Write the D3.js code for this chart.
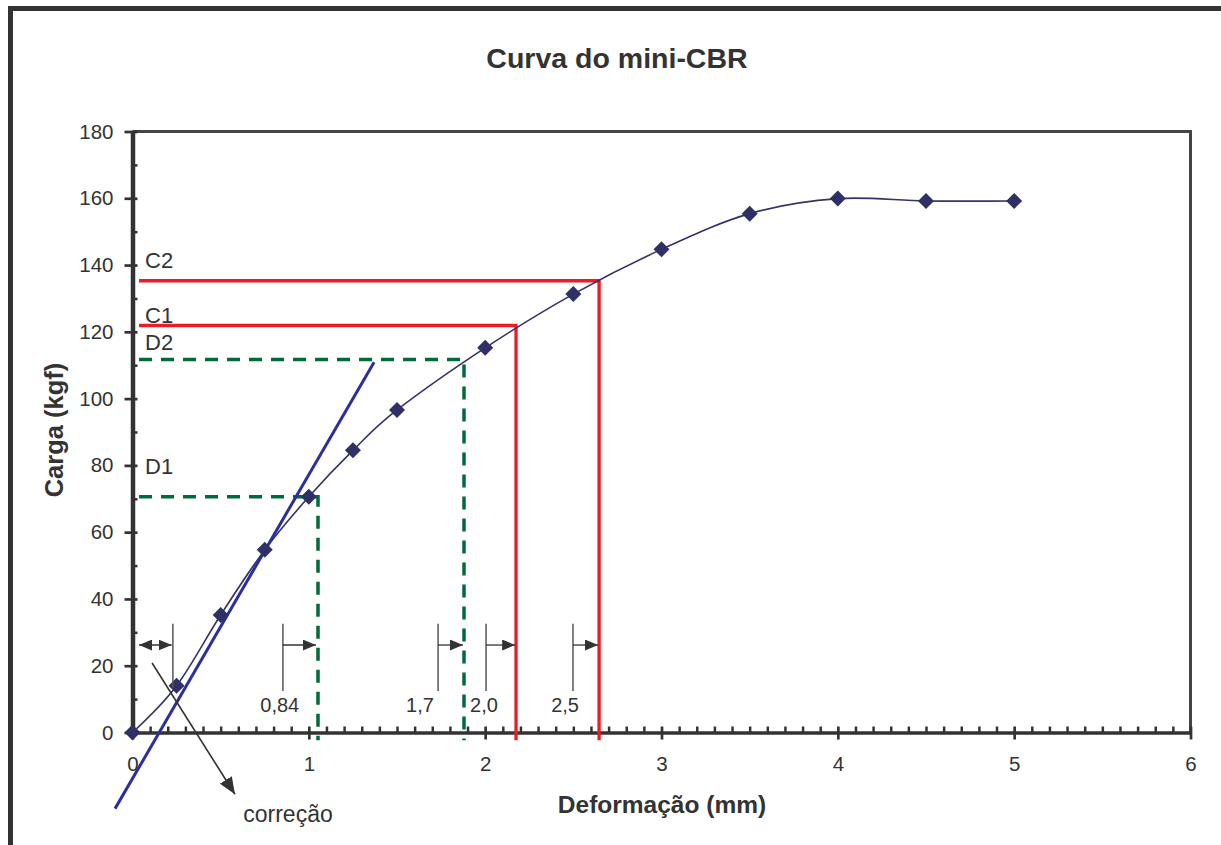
<!DOCTYPE html>
<html>
<head>
<meta charset="utf-8">
<script src="https://cdn.jsdelivr.net/npm/d3@7"></script>
<style>
  body { margin: 0; background: #fff; }
  text { font-family: "Liberation Sans", Arial, sans-serif; fill: #333; }
</style>
</head>
<body>
<div id="chart"></div>
<script>
// ensaio mini-CBR: deformacao (mm) x carga (kgf)
var deformacao = [0, 0.25, 0.5, 0.75, 1, 1.25, 1.5, 2, 2.5, 3, 3.5, 4, 4.5, 5];
var carga = [0, 14, 35.2, 54.7, 70.6, 84.5, 96.6, 115.2, 131.3, 144.7, 155.4, 159.9, 159.2, 159.2];

var xTicks = [0, 1, 2, 3, 4, 5, 6];
var yTicks = [0, 20, 40, 60, 80, 100, 120, 140, 160, 180];

// reta de correcao (trecho inicial)
var retaX = [-0.099, 1.37];
var retaY = [-22.8, 110.9];

// linhas de leitura: C = vermelho, D = verde tracejado
var refNomes = ["C2", "C1", "D2", "D1"];
var refCarga = [135.3, 121.9, 111.7, 70.6];
var refDeform = [2.646, 2.175, 1.88, 1.052];
var refRotuloY = [139.2, 122.5, 114.6, 77.4];

// setas de deslocamento
var setaRotulos = ["0,84", "1,7", "2,0", "2,5"];
var setaInicio = [0.853, 1.733, 2.005, 2.498];
var setaFim = [1.04, 1.874, 2.17, 2.64];
var setaRotuloX = [0.835, 1.63, 1.993, 2.453];

var width = 1221, height = 845;
var margin = { top: 131.5, right: 30.5, bottom: 112.5, left: 132.5 };

var svg = d3.select("#chart").append("svg")
    .attr("width", width)
    .attr("height", height);

var x = d3.scaleLinear().domain([0, 6]).range([margin.left, width - margin.right]);
var y = d3.scaleLinear().domain([0, 180]).range([height - margin.bottom, margin.top]);

var defs = svg.append("defs");
function arrowMarker(id, len, w) {
  defs.append("marker")
      .attr("id", id)
      .attr("markerUnits", "userSpaceOnUse")
      .attr("viewBox", "0 0 " + len + " " + w)
      .attr("refX", len).attr("refY", w / 2)
      .attr("markerWidth", len).attr("markerHeight", w)
      .attr("orient", "auto-start-reverse")
      .append("path")
      .attr("d", "M0,0L" + len + "," + (w / 2) + "L0," + w + "Z")
      .attr("fill", "#333");
}
arrowMarker("seta", 13, 11);
arrowMarker("setaGrande", 17, 14);

// moldura externa
svg.append("rect")
    .attr("x", 10.5).attr("y", 8.5)
    .attr("width", 1400).attr("height", 1000)
    .attr("fill", "none").attr("stroke", "#333").attr("stroke-width", 5);

// titulo
svg.append("text")
    .attr("x", 617).attr("y", 68)
    .attr("text-anchor", "middle")
    .style("font-size", "28.5px").style("font-weight", "bold")
    .text("Curva do mini-CBR");

// borda superior e direita
svg.append("path")
    .attr("d", "M" + x(0) + "," + y(180) + "H" + x(6) + "V" + y(0))
    .attr("fill", "none").attr("stroke", "#444").attr("stroke-width", 3);

// eixo Y
var yMinor = svg.append("g")
    .attr("transform", "translate(" + x(0) + ",0)")
    .call(d3.axisLeft(y).tickValues(d3.range(10, 180, 20)).tickSize(-5).tickFormat(""));
yMinor.select(".domain").remove();
yMinor.selectAll(".tick line").attr("stroke", "#333").attr("stroke-width", 2.5);

var yAxis = svg.append("g")
    .attr("transform", "translate(" + x(0) + ",0)")
    .call(d3.axisLeft(y).tickValues(yTicks).tickFormat(d3.format("d")).tickSizeInner(8).tickSizeOuter(0));
yAxis.select(".domain").attr("stroke", "#333").attr("stroke-width", 4.5);
yAxis.selectAll(".tick line").attr("x1", 5).attr("stroke", "#333").attr("stroke-width", 2.7);
yAxis.selectAll(".tick text")
    .attr("x", -19)
    .style("font-size", "20.5px")
    .style("font-family", "Liberation Sans, Arial, sans-serif")
    .attr("fill", "#333");

// eixo X
var xMinor = svg.append("g")
    .attr("transform", "translate(0," + y(0) + ")")
    .call(d3.axisBottom(x).tickValues(d3.range(1, 60).filter(function(d) { return d % 10 !== 0; })
      .map(function(d) { return d / 10; })).tickSize(-6).tickFormat(""));
xMinor.select(".domain").remove();
xMinor.selectAll(".tick line").attr("stroke", "#333").attr("stroke-width", 2.5);

var xAxis = svg.append("g")
    .attr("transform", "translate(0," + y(0) + ")")
    .call(d3.axisBottom(x).tickValues(xTicks).tickFormat(d3.format("d")).tickSizeInner(7).tickSizeOuter(0));
xAxis.select(".domain").attr("stroke", "#333").attr("stroke-width", 3.5);
xAxis.selectAll(".tick line").attr("y1", -6).attr("stroke", "#333").attr("stroke-width", 2.7);
xAxis.selectAll(".tick text")
    .attr("y", 24)
    .style("font-size", "20.5px")
    .style("font-family", "Liberation Sans, Arial, sans-serif")
    .attr("fill", "#333");

// titulos dos eixos
svg.append("text")
    .attr("x", 662).attr("y", 813)
    .attr("text-anchor", "middle")
    .style("font-size", "24.5px").style("font-weight", "bold")
    .text("Deformação (mm)");

svg.append("text")
    .attr("transform", "translate(63,430) rotate(-90)")
    .attr("text-anchor", "middle")
    .style("font-size", "25.5px").style("font-weight", "bold")
    .text("Carga (kgf)");

// linhas de leitura
refNomes.forEach(function(nome, i) {
  var verde = nome.charAt(0) === "D";
  svg.append("path")
      .attr("d", "M" + x(0.037) + "," + y(refCarga[i]) + "H" + x(refDeform[i]) + "V" + y(-2.3))
      .attr("fill", "none")
      .attr("stroke", verde ? "#006a3b" : "#ec1c24")
      .attr("stroke-width", verde ? 3.5 : 3.3)
      .attr("stroke-dasharray", verde ? "13,9" : null);
  svg.append("text")
      .attr("x", 145).attr("y", y(refRotuloY[i]))
      .style("font-size", "22px")
      .text(nome);
});

// curva suavizada
var pontos = deformacao.map(function(d, i) { return [d, carga[i]]; });
var linha = d3.line()
    .x(function(d) { return x(d[0]); })
    .y(function(d) { return y(d[1]); })
    .curve(d3.curveCardinal.tension(0));

svg.append("path")
    .datum(pontos)
    .attr("d", linha)
    .attr("fill", "none")
    .attr("stroke", "#333366")
    .attr("stroke-width", 1.6);

// reta de correcao
svg.append("line")
    .attr("x1", x(retaX[0])).attr("y1", y(retaY[0]))
    .attr("x2", x(retaX[1])).attr("y2", y(retaY[1]))
    .attr("stroke", "#2b2f9c").attr("stroke-width", 3);

// marcadores losango
svg.selectAll(".ponto")
    .data(pontos)
    .enter().append("path")
    .attr("class", "ponto")
    .attr("d", "M0,-8L8,0L0,8L-8,0Z")
    .attr("transform", function(d) { return "translate(" + x(d[0]) + "," + y(d[1]) + ")"; })
    .attr("fill", "#2f3066");

// seta dupla da correcao
svg.append("line")
    .attr("x1", x(0.037)).attr("x2", x(0.222))
    .attr("y1", y(26.2)).attr("y2", y(26.2))
    .attr("stroke", "#333").attr("stroke-width", 1.3)
    .attr("marker-start", "url(#seta)")
    .attr("marker-end", "url(#seta)");
svg.append("line")
    .attr("x1", x(0.229)).attr("x2", x(0.229))
    .attr("y1", y(32.6)).attr("y2", y(13.5))
    .attr("stroke", "#555").attr("stroke-width", 1.5);

// setas de deslocamento
setaRotulos.forEach(function(r, i) {
  svg.append("line")
      .attr("x1", x(setaInicio[i])).attr("x2", x(setaInicio[i]))
      .attr("y1", y(32.6)).attr("y2", y(12.4))
      .attr("stroke", "#555").attr("stroke-width", 1.5);
  svg.append("line")
      .attr("x1", x(setaInicio[i])).attr("x2", x(setaFim[i]))
      .attr("y1", y(26.2)).attr("y2", y(26.2))
      .attr("stroke", "#333").attr("stroke-width", 1.3)
      .attr("marker-end", "url(#seta)");
  svg.append("text")
      .attr("x", x(setaRotuloX[i])).attr("y", y(6.1))
      .attr("text-anchor", "middle")
      .style("font-size", "20px")
      .text(r);
});

// seta "correcao"
svg.append("line")
    .attr("x1", x(0.111)).attr("y1", y(20.8))
    .attr("x2", x(0.581)).attr("y2", y(-18.5))
    .attr("stroke", "#333").attr("stroke-width", 1.6)
    .attr("marker-end", "url(#setaGrande)");
svg.append("text")
    .attr("x", 288).attr("y", 822)
    .attr("text-anchor", "middle")
    .style("font-size", "23px")
    .text("correção");
</script>
</body>
</html>
